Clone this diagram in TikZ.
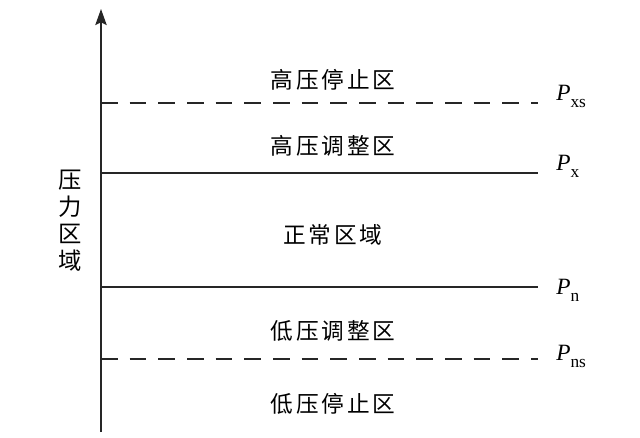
\documentclass[tikz,border=0pt]{standalone}
\usepackage{fontspec}
\setmainfont{Liberation Serif}
\newfontfamily\cjk[LetterSpace=12]{Noto Sans CJK SC}
\usetikzlibrary{arrows.meta}
\newcommand{\psub}[1]{\textit{P}\raisebox{-0.3em}{\fontsize{13}{14}\selectfont #1}}

\begin{document}
\begin{tikzpicture}[
    x=0.75pt, y=-0.75pt,
    zone/.style={font=\cjk\fontsize{17}{20}\selectfont},
    bound/.style={draw=black!85, line width=1.4pt},
    softbound/.style={bound, dash pattern=on 12.5pt off 9pt},
    plabel/.style={anchor=base west, inner sep=0pt, font=\fontsize{17.5}{19}\selectfont},
]
  \useasboundingbox (0,0) rectangle (640,437);
  % axis
  \coordinate (o) at (101,432);
  \coordinate (top) at (101,9);
  \draw[bound, -{Stealth[length=12pt,width=8.5pt,inset=2pt]}] (o) -- (top);
  \node[zone, align=center, font=\cjk\fontsize{17.5}{20.25}\selectfont] (ylab) at (70,221) {压\\力\\区\\域};
  % boundaries (y in px, top down)
  \coordinate (xs0) at (101,103);  \coordinate (xs1) at (538,103);
  \coordinate (x0)  at (101,173);  \coordinate (x1)  at (538,173);
  \coordinate (n0)  at (101,287);  \coordinate (n1)  at (538,287);
  \coordinate (ns0) at (101,359);  \coordinate (ns1) at (538,359);
  \draw[softbound] (xs0) -- (xs1);
  \draw[bound] (x0) -- (x1);
  \draw[bound] (n0) -- (n1);
  \draw[softbound] (ns0) -- (ns1);
  % zones
  \node[zone] (zhs) at (333,80)  {高压停止区};
  \node[zone] (zha) at (333,146) {高压调整区};
  \node[zone] (zok) at (333,235) {正常区域};
  \node[zone] (zla) at (333,331) {低压调整区};
  \node[zone] (zls) at (333,404) {低压停止区};
  % pressure limits
  \node[plabel] (pxs) at (556,100) {\psub{xs}};
  \node[plabel] (px)  at (556,170) {\psub{x}};
  \node[plabel] (pn)  at (556,294) {\psub{n}};
  \node[plabel] (pns) at (556,360) {\psub{ns}};
\end{tikzpicture}
\end{document}
